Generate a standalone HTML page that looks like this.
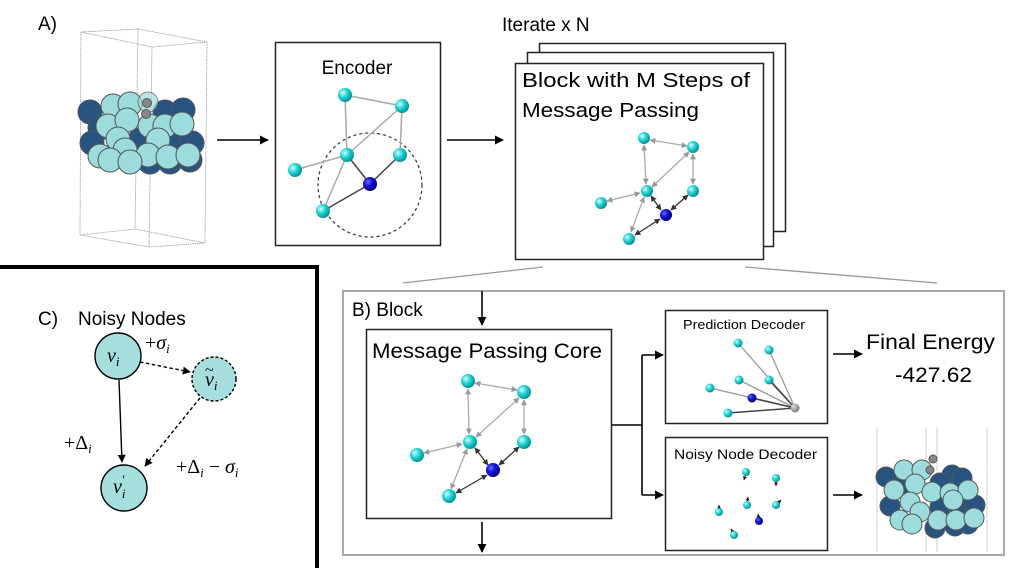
<!DOCTYPE html>
<html><head><meta charset="utf-8"><style>
html,body{margin:0;padding:0;background:#fff;}
svg{display:block;font-family:"Liberation Sans",sans-serif;}
</style></head><body>
<svg width="1018" height="568" viewBox="0 0 1018 568" xmlns="http://www.w3.org/2000/svg">
<defs>
<radialGradient id="cy" cx="0.35" cy="0.35" r="0.7"><stop offset="0" stop-color="#d8ffff"/><stop offset="0.45" stop-color="#22d6d6"/><stop offset="1" stop-color="#008c8c"/></radialGradient>
<radialGradient id="bl" cx="0.35" cy="0.35" r="0.7"><stop offset="0" stop-color="#6a6aff"/><stop offset="0.45" stop-color="#1010d8"/><stop offset="1" stop-color="#00007a"/></radialGradient>
<radialGradient id="gr" cx="0.35" cy="0.35" r="0.7"><stop offset="0" stop-color="#dddddd"/><stop offset="1" stop-color="#777"/></radialGradient>
<marker id="ar" viewBox="0 0 10 10" refX="9" refY="5" markerWidth="9" markerHeight="9" markerUnits="userSpaceOnUse" orient="auto"><path d="M0,0 L10,5 L0,10 z" fill="#000"/></marker>
<marker id="ag" viewBox="0 0 10 10" refX="9" refY="5" markerWidth="6" markerHeight="6" markerUnits="userSpaceOnUse" orient="auto-start-reverse"><path d="M0,0 L10,5 L0,10 z" fill="#999"/></marker>
<marker id="ad" viewBox="0 0 10 10" refX="9" refY="5" markerWidth="6" markerHeight="6" markerUnits="userSpaceOnUse" orient="auto-start-reverse"><path d="M0,0 L10,5 L0,10 z" fill="#333"/></marker>
<marker id="as" viewBox="0 0 10 10" refX="9" refY="5" markerWidth="4" markerHeight="4" markerUnits="userSpaceOnUse" orient="auto"><path d="M0,0 L10,5 L0,10 z" fill="#222"/></marker>
<marker id="ac" viewBox="0 0 10 10" refX="9" refY="5" markerWidth="8" markerHeight="8" markerUnits="userSpaceOnUse" orient="auto"><path d="M0,0 L10,5 L0,10 z" fill="#000"/></marker>
</defs>

<!-- A) -->
<text x="38" y="30" font-size="19">A)</text>
<g stroke="#999" stroke-width="0.8" fill="none" stroke-dasharray="1.5 0.8">
<polygon points="81,32 138,29 207,42 152,47"/>
<polygon points="80,235 135,229 205,243 149,247"/>
<line x1="81" y1="32" x2="80" y2="235"/><line x1="138" y1="29" x2="135" y2="229"/>
<line x1="207" y1="42" x2="205" y2="243"/><line x1="152" y1="47" x2="149" y2="247"/>
</g>
<g stroke="#555" stroke-width="1">
<g fill="#285482">
<circle cx="90" cy="112" r="12"/><circle cx="165" cy="112" r="12"/><circle cx="183" cy="110" r="12"/>
<circle cx="100" cy="128" r="12"/><circle cx="175" cy="126" r="12"/>
<circle cx="92" cy="143" r="12"/><circle cx="140" cy="140" r="12"/><circle cx="172" cy="142" r="12"/><circle cx="192" cy="143" r="12"/>
<circle cx="150" cy="162" r="12"/><circle cx="170" cy="162" r="12"/><circle cx="190" cy="160" r="12"/>
</g>
<g fill="#9ddcdc">
<circle cx="113" cy="106" r="12"/><circle cx="130" cy="104" r="12"/>
<circle cx="108" cy="126" r="12"/><circle cx="127" cy="120" r="12"/><circle cx="150" cy="126" r="12"/><circle cx="165" cy="126" r="12"/><circle cx="182" cy="124" r="12"/>
<circle cx="118" cy="139" r="12"/><circle cx="158" cy="140" r="12"/>
<circle cx="100" cy="156" r="12"/><circle cx="125" cy="150" r="12"/><circle cx="148" cy="155" r="12"/><circle cx="168" cy="157" r="12"/><circle cx="188" cy="155" r="12"/>
<circle cx="110" cy="160" r="12"/><circle cx="130" cy="162" r="12"/>
</g>
<circle cx="148" cy="102" r="10" fill="#9ddcdc" opacity="0.7"/>
<circle cx="147" cy="103" r="4.5" fill="#888"/><circle cx="146" cy="114" r="4.5" fill="#888"/>
</g>
<line x1="217" y1="140" x2="268" y2="140" stroke="#000" stroke-width="1.6" marker-end="url(#ar)"/>

<!-- Encoder -->
<rect x="275.5" y="42.5" width="165" height="203" fill="#fff" stroke="#222" stroke-width="1.5"/>
<text x="357" y="74" font-size="19" text-anchor="middle">Encoder</text>
<circle cx="370" cy="185" r="52" fill="none" stroke="#333" stroke-width="1.2" stroke-dasharray="3 3"/>
<g stroke="#aaa" stroke-width="1.5">
<line x1="345" y1="95" x2="402" y2="106"/><line x1="345" y1="95" x2="347" y2="155"/><line x1="402" y1="106" x2="347" y2="155"/>
<line x1="402" y1="106" x2="400" y2="155"/><line x1="295" y1="170" x2="347" y2="155"/><line x1="347" y1="155" x2="323" y2="211"/>
</g>
<g stroke="#444" stroke-width="1.5"><line x1="347" y1="155" x2="370" y2="184"/><line x1="400" y1="155" x2="370" y2="184"/><line x1="323" y1="211" x2="370" y2="184"/></g>
<g fill="url(#cy)"><circle cx="345" cy="95" r="7"/><circle cx="402" cy="106" r="7"/><circle cx="347" cy="155" r="7"/><circle cx="400" cy="155" r="7"/><circle cx="295" cy="170" r="7"/><circle cx="323" cy="211" r="7"/></g>
<circle cx="370" cy="184" r="7" fill="url(#bl)"/>
<line x1="447" y1="140" x2="503" y2="140" stroke="#000" stroke-width="1.6" marker-end="url(#ar)"/>

<!-- Iterate -->
<text x="502" y="31" font-size="19">Iterate x N</text>
<rect x="539.5" y="43.5" width="246" height="188" fill="#fff" stroke="#222" stroke-width="1.5"/>
<rect x="527.5" y="52.5" width="246" height="194" fill="#fff" stroke="#222" stroke-width="1.5"/>
<rect x="515.5" y="63.5" width="248" height="196" fill="#fff" stroke="#222" stroke-width="1.5"/>
<text x="522" y="87" font-size="20" textLength="228" lengthAdjust="spacingAndGlyphs">Block with M Steps of</text>
<text x="522" y="117" font-size="20" textLength="177" lengthAdjust="spacingAndGlyphs">Message Passing</text>
<g stroke="#aaa" stroke-width="1.3" marker-start="url(#ag)" marker-end="url(#ag)">
<line x1="650" y1="140" x2="687" y2="146"/><line x1="644" y1="145" x2="646" y2="184"/><line x1="689" y1="152" x2="652" y2="187"/>
<line x1="693" y1="154" x2="693" y2="184"/><line x1="607" y1="201" x2="640" y2="193"/><line x1="644" y1="197" x2="631" y2="232"/>
</g>
<g stroke="#333" stroke-width="1.3" marker-start="url(#ad)" marker-end="url(#ad)">
<line x1="651" y1="196" x2="661" y2="210"/><line x1="688" y1="195" x2="671" y2="210"/><line x1="635" y1="235" x2="660" y2="219"/>
</g>
<g fill="url(#cy)"><circle cx="644" cy="138" r="6"/><circle cx="693" cy="147" r="6"/><circle cx="647" cy="191" r="6"/><circle cx="693" cy="191" r="6"/><circle cx="601" cy="203" r="6"/><circle cx="629" cy="239" r="6"/></g>
<circle cx="666" cy="215" r="6" fill="url(#bl)"/>

<g stroke="#999" stroke-width="1.3"><line x1="403" y1="283" x2="543" y2="267"/><line x1="745" y1="267" x2="937" y2="283"/></g>

<!-- C -->
<path d="M0,267 H317 V568" fill="none" stroke="#000" stroke-width="4"/>
<text x="38" y="325" font-size="19">C)</text>
<text x="78" y="325" font-size="19">Noisy Nodes</text>
<line x1="140" y1="362" x2="190" y2="372" stroke="#000" stroke-width="1.4" stroke-dasharray="3.5 2.5" marker-end="url(#ac)"/>
<line x1="119" y1="380" x2="122" y2="462" stroke="#000" stroke-width="1.4" marker-end="url(#ac)"/>
<line x1="200" y1="398" x2="145" y2="466" stroke="#000" stroke-width="1.4" stroke-dasharray="3.5 2.5" marker-end="url(#ac)"/>
<circle cx="118" cy="356" r="23" fill="#a6dede" stroke="#000" stroke-width="1.4"/>
<circle cx="214" cy="379" r="22" fill="#a6dede" stroke="#000" stroke-width="1.4" stroke-dasharray="3 2"/>
<circle cx="124" cy="488" r="23" fill="#a6dede" stroke="#000" stroke-width="1.4"/>
<g font-family="'Liberation Serif',serif" font-style="italic" font-size="20">
<text x="107" y="362">v<tspan font-size="13" dy="4">i</tspan></text>
<text x="205" y="386">v<tspan font-size="13" dy="4">i</tspan></text>
<text x="205" y="375" font-style="normal" font-size="16">~</text>
<text x="113" y="493">v<tspan font-size="13" dy="5">i</tspan><tspan font-size="13" dy="-14" dx="-4">′</tspan></text>
<text x="145" y="349"><tspan font-style="normal">+</tspan>σ<tspan font-size="13" dy="4">i</tspan></text>
<text x="64" y="449"><tspan font-style="normal">+Δ</tspan><tspan font-size="13" dy="4">i</tspan></text>
<text x="176" y="473"><tspan font-style="normal">+Δ</tspan><tspan font-size="13" dy="4">i</tspan><tspan dy="-4" font-style="normal"> − </tspan>σ<tspan font-size="13" dy="4">i</tspan></text>
</g>

<!-- B -->
<rect x="343" y="291" width="661" height="264" fill="none" stroke="#aaa" stroke-width="2"/>
<text x="352" y="316" font-size="19">B) Block</text>
<line x1="482" y1="291" x2="482" y2="325" stroke="#000" stroke-width="1.6" marker-end="url(#ar)"/>
<rect x="366.5" y="329.5" width="245" height="189" fill="#fff" stroke="#222" stroke-width="1.5"/>
<text x="372" y="358" font-size="21" textLength="230" lengthAdjust="spacingAndGlyphs">Message Passing Core</text>
<g stroke="#aaa" stroke-width="1.3" marker-start="url(#ag)" marker-end="url(#ag)">
<line x1="475" y1="383" x2="517" y2="390"/><line x1="468" y1="389" x2="469" y2="434"/><line x1="519" y1="398" x2="476" y2="437"/>
<line x1="524" y1="400" x2="524" y2="434"/><line x1="424" y1="453" x2="462" y2="444"/><line x1="467" y1="449" x2="451" y2="489"/>
</g>
<g stroke="#333" stroke-width="1.3" marker-start="url(#ad)" marker-end="url(#ad)">
<line x1="475" y1="448" x2="488" y2="465"/><line x1="519" y1="447" x2="499" y2="465"/><line x1="456" y1="493" x2="487" y2="475"/>
</g>
<g fill="url(#cy)"><circle cx="468" cy="381" r="7"/><circle cx="524" cy="392" r="7"/><circle cx="470" cy="442" r="7"/><circle cx="524" cy="442" r="7"/><circle cx="417" cy="455" r="7"/><circle cx="449" cy="496" r="7"/></g>
<circle cx="493" cy="470" r="7" fill="url(#bl)"/>
<line x1="482" y1="522" x2="482" y2="552" stroke="#000" stroke-width="1.6" marker-end="url(#ar)"/>

<path d="M612,425 H642 V355 M642,425 V495" fill="none" stroke="#000" stroke-width="1.6"/>
<line x1="642" y1="355" x2="663" y2="355" stroke="#000" stroke-width="1.6" marker-end="url(#ar)"/>
<line x1="642" y1="495" x2="663" y2="495" stroke="#000" stroke-width="1.6" marker-end="url(#ar)"/>

<!-- Prediction decoder -->
<rect x="665.5" y="310.5" width="162" height="113" fill="#fff" stroke="#222" stroke-width="1.5"/>
<text x="683" y="329" font-size="13" textLength="122" lengthAdjust="spacingAndGlyphs">Prediction Decoder</text>
<g stroke="#999" stroke-width="1.3"><line x1="738" y1="343" x2="795" y2="408"/><line x1="769" y1="350" x2="795" y2="408"/><line x1="739" y1="380" x2="795" y2="408"/><line x1="710" y1="388" x2="795" y2="408"/></g>
<g stroke="#444" stroke-width="1.5"><line x1="769" y1="380" x2="795" y2="408"/><line x1="752" y1="398" x2="795" y2="408"/><line x1="728" y1="413" x2="795" y2="408"/></g>
<g fill="url(#cy)"><circle cx="738" cy="343" r="4.5"/><circle cx="769" cy="350" r="4.5"/><circle cx="739" cy="380" r="4.5"/><circle cx="769" cy="380" r="4.5"/><circle cx="710" cy="388" r="4.5"/><circle cx="728" cy="413" r="4.5"/></g>
<circle cx="752" cy="398" r="4.5" fill="url(#bl)"/><circle cx="795" cy="408" r="4.5" fill="url(#gr)"/>
<line x1="833" y1="354" x2="862" y2="354" stroke="#000" stroke-width="1.6" marker-end="url(#ar)"/>
<text x="866" y="349" font-size="21" textLength="129" lengthAdjust="spacingAndGlyphs">Final Energy</text>
<text x="895" y="382" font-size="21" textLength="77" lengthAdjust="spacingAndGlyphs">-427.62</text>

<!-- Noisy node decoder -->
<rect x="665.5" y="437.5" width="162" height="113" fill="#fff" stroke="#222" stroke-width="1.5"/>
<text x="674" y="459" font-size="14" textLength="143" lengthAdjust="spacingAndGlyphs">Noisy Node Decoder</text>
<g stroke="#222" stroke-width="1" marker-end="url(#as)">
<line x1="746" y1="473" x2="744" y2="480"/><line x1="776" y1="479" x2="776" y2="486"/><line x1="747" y1="504" x2="748" y2="497"/><line x1="777" y1="504" x2="781" y2="500"/><line x1="719" y1="511" x2="719" y2="505"/><line x1="759" y1="520" x2="758" y2="514"/><line x1="734" y1="534" x2="731" y2="529"/>
</g>
<g fill="url(#cy)"><circle cx="746" cy="472" r="4"/><circle cx="776" cy="478" r="4"/><circle cx="747" cy="505" r="4"/><circle cx="776" cy="505" r="4"/><circle cx="719" cy="512" r="4"/><circle cx="734" cy="535" r="4"/></g>
<circle cx="759" cy="521" r="4" fill="url(#bl)"/>
<line x1="833" y1="495" x2="862" y2="495" stroke="#000" stroke-width="1.6" marker-end="url(#ar)"/>

<!-- slab B -->
<g stroke="#aaa" stroke-width="0.8" stroke-dasharray="1.5 0.8"><line x1="877" y1="428" x2="877" y2="552"/><line x1="926" y1="428" x2="926" y2="552"/><line x1="937" y1="428" x2="937" y2="552"/><line x1="987" y1="428" x2="987" y2="552"/></g>
<g stroke="#555" stroke-width="1">
<g fill="#285482">
<circle cx="886" cy="477" r="10"/><circle cx="952" cy="475" r="10"/><circle cx="962" cy="478" r="10"/>
<circle cx="898" cy="488" r="10"/><circle cx="940" cy="483" r="10"/>
<circle cx="890" cy="506" r="10"/><circle cx="940" cy="507" r="10"/><circle cx="958" cy="505" r="10"/><circle cx="975" cy="505" r="10"/>
<circle cx="935" cy="528" r="10"/><circle cx="955" cy="526" r="10"/><circle cx="968" cy="524" r="10"/>
</g>
<g fill="#9ddcdc">
<circle cx="904" cy="470" r="10"/><circle cx="922" cy="470" r="10"/>
<circle cx="894" cy="490" r="10"/><circle cx="915" cy="484" r="10"/><circle cx="932" cy="492" r="10"/><circle cx="950" cy="493" r="10"/><circle cx="968" cy="490" r="10"/>
<circle cx="910" cy="502" r="10"/><circle cx="953" cy="500" r="10"/>
<circle cx="900" cy="520" r="10"/><circle cx="920" cy="512" r="10"/><circle cx="938" cy="520" r="10"/><circle cx="956" cy="520" r="10"/><circle cx="974" cy="518" r="10"/>
<circle cx="912" cy="524" r="10"/>
</g>
<circle cx="933" cy="459" r="4" fill="#888"/><circle cx="930" cy="470" r="4" fill="#888"/>
</g>
</svg>
</body></html>
